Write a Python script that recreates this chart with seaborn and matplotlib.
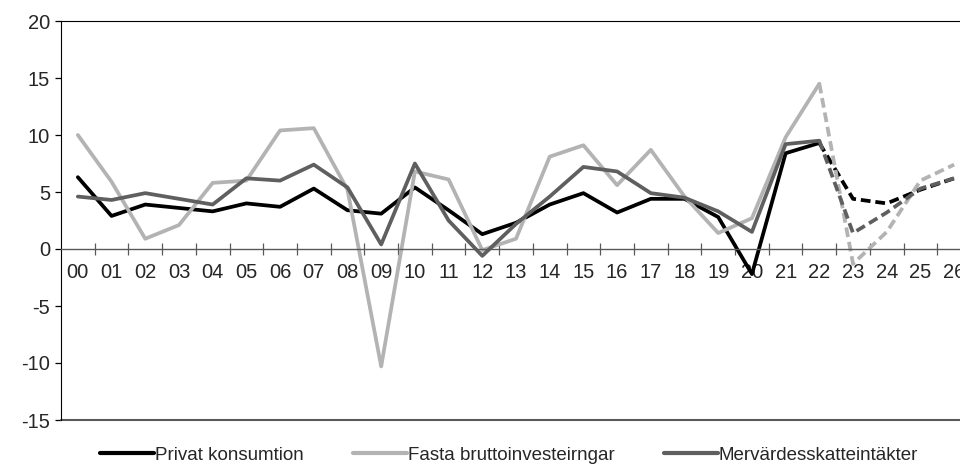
import matplotlib
matplotlib.use("Agg")
import matplotlib.pyplot as plt
from matplotlib.lines import Line2D
import numpy as np
import pandas as pd
import seaborn as sns

years = ["00", "01", "02", "03", "04", "05", "06", "07", "08", "09",
         "10", "11", "12", "13", "14", "15", "16", "17", "18", "19",
         "20", "21", "22", "23", "24", "25", "26"]

privat = [6.3, 2.9, 3.9, 3.6, 3.3, 4.0, 3.7, 5.3, 3.4, 3.1,
          5.4, 3.4, 1.3, 2.3, 3.9, 4.9, 3.2, 4.4, 4.4, 2.8,
          -2.2, 8.4, 9.3, 4.4, 4.0, 5.2, 6.2]
fasta = [10.0, 5.9, 0.9, 2.1, 5.8, 6.0, 10.4, 10.6, 5.2, -10.3,
         6.8, 6.1, -0.1, 0.9, 8.1, 9.1, 5.6, 8.7, 4.6, 1.4,
         2.7, 9.8, 14.5, -1.3, 1.5, 6.0, 7.4]
moms = [4.6, 4.3, 4.9, 4.4, 3.9, 6.2, 6.0, 7.4, 5.4, 0.4,
        7.5, 2.5, -0.6, 2.2, 4.6, 7.2, 6.8, 4.9, 4.5, 3.3,
        1.5, 9.2, 9.5, 1.4, 3.2, 5.3, 6.2]

series_names = ["Privat konsumtion", "Fasta bruttoinvesteirngar",
                "Mervärdesskatteintäkter"]
colors = ["#000000", "#b3b3b3", "#5f5f5f"]
last_actual = 22  # index of "22", forecast after that

rows = []
for name, vals in zip(series_names, [privat, fasta, moms]):
    for i, v in enumerate(vals):
        if i <= last_actual:
            rows.append((i, v, name, "utfall"))
        if i >= last_actual:
            rows.append((i, v, name, "prognos"))
df = pd.DataFrame(rows, columns=["x", "value", "serie", "period"])

sns.set_style("white")
plt.rcParams["font.family"] = ["Liberation Sans", "DejaVu Sans"]

fig = plt.figure(figsize=(9.6, 4.68), dpi=100)
ax = fig.add_axes([61 / 960, 48 / 468, 910 / 960, 399 / 468])

sns.lineplot(data=df, x="x", y="value", hue="serie", style="period",
             hue_order=series_names, palette=colors,
             style_order=["utfall", "prognos"],
             dashes={"utfall": "", "prognos": (2.6, 1.3)},
             linewidth=2.7, legend=False, ax=ax, errorbar=None)

ax.set_xlim(-0.5, 26.5)
ax.set_ylim(-15, 20)
ax.set_xlabel("")
ax.set_ylabel("")

# y axis
ax.set_yticks(np.arange(-15, 21, 5))
ax.set_yticklabels([str(v) for v in range(-15, 21, 5)])
ax.tick_params(axis="y", direction="out", length=4, width=0.9,
               color="#000000", labelsize=14.5, pad=4, left=True)

# x axis sits on the zero line, ticks between categories
ax.spines["bottom"].set_position(("data", 0))
ax.spines["bottom"].set_color("#595959")
ax.spines["bottom"].set_linewidth(1.0)
ax.set_xticks(np.arange(0.5, 26.5, 1))
ax.set_xticklabels([])
ax.set_xticks(np.arange(0, 27), minor=True)
ax.set_xticklabels(years, minor=True)
ax.tick_params(axis="x", which="major", direction="inout", length=9,
               width=0.9, color="#595959", bottom=True)
ax.tick_params(axis="x", which="minor", length=0, labelsize=14.5, pad=10)

ax.spines["left"].set_color("#000000")
ax.spines["top"].set_color("#000000")
ax.spines["right"].set_visible(False)
ax.axhline(-15, color="#595959", linewidth=1.5, clip_on=False)

handles = [Line2D([], [], color=c, linewidth=3) for c in colors]
fig.legend(handles, series_names, loc="center left",
           bbox_to_anchor=(100 / 960, 13 / 468), ncol=3, frameon=False,
           fontsize=13.5, handlelength=2.9, handletextpad=0.05,
           columnspacing=2.6, borderpad=0, borderaxespad=0)

fig.savefig("out.png", dpi=100)
